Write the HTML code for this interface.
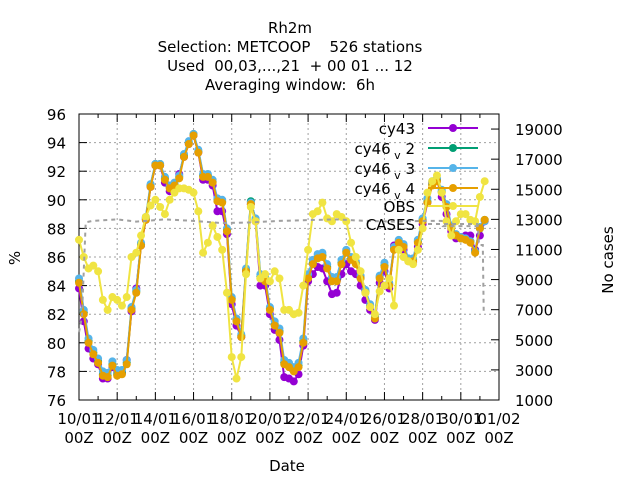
<!DOCTYPE html>
<html><head><meta charset="utf-8"><style>
html,body{margin:0;padding:0;background:#fff;}
svg{display:block;font-family:"DejaVu Sans","Liberation Sans",sans-serif;}
</style></head><body>
<svg id="chart" width="640" height="480" viewBox="0 0 640 480" xmlns="http://www.w3.org/2000/svg">
<g font-size="15" text-anchor="middle" fill="#000">
<text x="290" y="33">Rh2m</text>
<text x="290" y="52" xml:space="preserve">Selection: METCOOP    526 stations</text>
<text x="290" y="71" xml:space="preserve">Used  00,03,...,21  + 00 01 ... 12</text>
<text x="290" y="90" xml:space="preserve">Averaging window:  6h</text>
</g>
<g id="grid"></g>
<g id="axes"></g>
<g id="series"></g>
<g id="legend"></g>
<text x="287" y="471" font-size="15" text-anchor="middle">Date</text>
<text x="20" y="258" font-size="15" text-anchor="middle" transform="rotate(-90 20 258)">%</text>
<text x="613" y="260" font-size="15" text-anchor="middle" transform="rotate(-90 613 260)">No cases</text>
</svg>
<script>
const xTickLabels = ["10/01","12/01","14/01","16/01","18/01","20/01","22/01","24/01","26/01","28/01","30/01","01/02"];
const yTicks = [76,78,80,82,84,86,88,90,92,94,96];
const y2Ticks = [1000,3000,5000,7000,9000,11000,13000,15000,17000,19000];
const seriesNames = ["cy43","cy46v2","cy46v3","cy46v4","OBS"];
const cy43 = [83.8,81.5,79.6,78.9,78.5,77.5,77.5,78.3,78.0,77.9,78.8,82.2,
 83.8,86.8,88.6,90.9,92.4,92.4,91.2,90.6,91.0,91.8,93.0,93.9,
 94.5,93.3,91.4,91.4,91.0,89.2,89.2,87.6,82.7,81.2,80.4,85.0,
 89.7,88.5,84.0,84.0,82.0,80.9,80.2,77.6,77.5,77.3,77.8,79.8,
 84.3,84.8,85.3,85.2,84.3,83.4,83.5,84.8,85.5,85.0,84.8,84.0,
 83.0,82.3,81.6,84.2,85.0,83.8,86.8,87.0,86.5,85.8,85.6,86.7,
 88.3,89.8,91.2,91.4,90.2,89.0,87.8,87.3,87.4,87.5,87.5,86.5,
 87.5,88.5];
const cy46v2 = [84.3,82.1,80.1,79.3,78.7,77.8,77.7,78.5,77.8,77.9,78.6,82.4,
 83.6,86.9,88.7,91.0,92.5,92.5,91.5,90.9,91.1,91.6,93.1,94.0,
 94.6,93.4,91.7,91.7,91.3,90.0,89.9,87.9,83.1,81.6,80.5,85.1,
 89.9,88.6,84.6,84.4,82.4,81.3,80.8,78.6,78.4,78.1,78.4,80.1,
 84.6,85.6,86.0,86.1,85.3,84.4,84.4,85.6,86.4,85.9,85.6,84.6,
 83.6,82.6,81.8,84.6,85.4,84.1,86.6,87.1,86.8,85.8,85.8,87.1,
 88.6,89.9,91.1,91.4,90.6,89.6,88.1,87.5,87.3,87.3,87.1,86.4,
 88.0,88.6];
const cy46v3 = [84.5,82.3,80.3,79.5,78.9,78.0,77.9,78.7,78.1,78.1,78.8,82.5,
 83.7,87.0,88.8,91.1,92.5,92.5,91.6,91.0,91.2,91.7,93.2,94.1,
 94.6,93.5,91.8,91.8,91.4,90.1,90.0,88.0,83.2,81.7,80.6,85.2,
 89.8,88.7,84.8,84.6,82.5,81.5,81.0,78.8,78.6,78.3,78.6,80.3,
 84.8,85.8,86.2,86.3,85.5,84.6,84.6,85.8,86.5,86.0,85.7,84.7,
 83.7,82.7,81.9,84.7,85.6,84.2,86.7,87.2,86.9,85.9,85.9,87.2,
 88.7,90.1,91.3,91.5,90.7,89.7,88.2,87.6,87.4,87.3,87.1,86.4,
 88.1,88.5];
const cy46v4 = [84.2,82.0,80.0,79.2,78.6,77.7,77.6,78.4,77.7,77.8,78.5,82.3,
 83.5,86.8,88.6,90.9,92.4,92.4,91.4,90.8,91.0,91.5,93.0,93.9,
 94.5,93.3,91.6,91.6,91.2,89.9,89.8,87.8,83.0,81.5,80.4,85.0,
 89.7,88.5,84.5,84.3,82.3,81.2,80.7,78.5,78.3,78.0,78.3,80.0,
 84.5,85.5,85.9,86.0,85.2,84.3,84.3,85.5,86.3,85.8,85.5,84.5,
 83.5,82.5,81.7,84.5,85.3,84.0,86.5,87.0,86.7,85.7,85.7,87.0,
 88.5,89.8,91.0,91.3,90.5,89.5,88.0,87.5,87.3,87.2,87.0,86.3,
 88.0,88.6];
const obs = [87.2,86.0,85.2,85.4,85.0,83.0,82.3,83.2,83.0,82.6,83.2,86.0,
 86.3,87.5,88.8,89.6,90.0,89.5,89.0,90.0,90.5,90.8,90.8,90.7,
 90.5,89.2,86.3,87.0,88.2,87.4,86.5,83.5,79.0,77.5,79.0,84.8,
 89.5,88.5,84.5,84.8,84.3,85.0,84.5,82.3,82.3,82.0,82.1,84.0,
 86.5,89.0,89.2,89.8,88.7,88.5,89.0,88.8,88.5,87.0,86.0,85.0,
 83.5,82.5,82.0,83.6,84.0,84.5,82.6,86.5,86.0,85.7,85.5,86.5,
 88.0,90.5,91.3,91.7,90.5,88.5,87.5,88.5,89.0,89.0,88.6,88.5,
 90.2,91.3];
const casesDays = [0,0.15,0.35,0.7,2,3,4.5,6,7.5,9,10.5,12,13.5,15,16.5,18,19,19.05,20.9,20.95,21.15,21.2];
const casesVals = [5500,6500,12800,12900,13000,12850,13000,12900,12750,12800,12900,12950,13000,12900,12850,12900,12900,12550,12550,11300,11300,6900];

const X0=79, X1=499, Y0=400, Y1=114, NDAYS=22;
const xs = d => X0 + d*(X1-X0)/NDAYS;
const ys = v => Y0 - (v-76)*(Y0-Y1)/20;
const y2s = c => Y0 - (c-1000)*(Y0-Y1)/19000;
const NS="http://www.w3.org/2000/svg";
function mk(tag, parent, attrs){const e=document.createElementNS(NS,tag);for(const k in attrs)e.setAttribute(k,attrs[k]);parent.appendChild(e);return e;}
const grid=document.getElementById('grid'), axes=document.getElementById('axes'), series=document.getElementById('series'), legend=document.getElementById('legend');

yTicks.forEach((v,i)=>{
  const y=ys(v);
  if(i>0&&i<yTicks.length-1){const g=mk('line',grid,{x1:X0,x2:X1,y1:y,y2:y,stroke:'#a0a0a0','stroke-width':1,'stroke-dasharray':'2,3'});
  
  }
  mk('line',axes,{x1:X0,x2:X0+8,y1:y,y2:y,stroke:'#000'});
  const t=mk('text',axes,{x:X0-13,y:y+6,'font-size':15,'text-anchor':'end'});t.textContent=v;
  
  
});
y2Ticks.forEach(c=>{
  const y=y2s(c);
  mk('line',axes,{x1:X1-8,x2:X1,y1:y,y2:y,stroke:'#000'});
  const t=mk('text',axes,{x:X1+16,y:y+6,'font-size':15});t.textContent=c;
  
  
});
for(let d=1; d<NDAYS; d+=2){ mk('line',axes,{x1:xs(d),x2:xs(d),y1:Y0,y2:Y0-4,stroke:'#000'}); mk('line',axes,{x1:xs(d),x2:xs(d),y1:Y1,y2:Y1+4,stroke:'#000'}); }
xTickLabels.forEach((lab,i)=>{
  const x=xs(i*2);
  if(i>0&&i<xTickLabels.length-1){const g=mk('line',grid,{x1:x,x2:x,y1:Y0,y2:Y1,stroke:'#a0a0a0','stroke-width':1,'stroke-dasharray':'2,3'});
  
  }
  mk('line',axes,{x1:x,x2:x,y1:Y0,y2:Y0-8,stroke:'#000'});
  mk('line',axes,{x1:x,x2:x,y1:Y1,y2:Y1+8,stroke:'#000'});
  const t=mk('text',axes,{x:x,y:424,'font-size':15,'text-anchor':'middle'});t.textContent=lab;
  
  
  const t2=mk('text',axes,{x:x,y:443,'font-size':15,'text-anchor':'middle'});t2.textContent='00Z';
  
  
});
mk('rect',axes,{x:X0,y:Y1,width:X1-X0,height:Y0-Y1,fill:'none',stroke:'#000','stroke-width':1});

const colors=['#9400d3','#009e73','#56b4e9','#e69f00','#f0e442'];
const data=[cy43,cy46v2,cy46v3,cy46v4,obs];
data.forEach((arr,si)=>{
  const g=mk('g',series,{});
  
  
  const pts=arr.map((v,i)=>xs(i*0.25).toFixed(1)+','+ys(v).toFixed(1)).join(' ');
  mk('polyline',g,{points:pts,fill:'none',stroke:colors[si],'stroke-width':2});
  arr.forEach((v,i)=>{
    const c=mk('circle',g,{cx:xs(i*0.25),cy:ys(v),r:4,fill:colors[si]});
    
    
  });
});
const cp=casesDays.map((d,i)=>xs(d).toFixed(1)+','+y2s(casesVals[i]).toFixed(1)).join(' ');
const cl=mk('polyline',series,{points:cp,fill:'none',stroke:'#a0a0a0','stroke-width':2,'stroke-dasharray':'4,4'});



const legRows=[["cy43",null],["cy46","2"],["cy46","3"],["cy46","4"],["OBS",null],["CASES",null]];
const legY=[128,148,168,188,206,224];
const legCols=['#9400d3','#009e73','#56b4e9','#e69f00','#f0e442','#a0a0a0'];
legRows.forEach((r,i)=>{
  const g=mk('g',legend,{});
  
  
  const y=legY[i];
  const t=mk('text',g,{x:415,y:y+6,'font-size':15,'text-anchor':'end'});
  if(r[1]){
    const a=document.createElementNS(NS,'tspan');a.textContent=r[0];t.appendChild(a);
    const b=document.createElementNS(NS,'tspan');b.setAttribute('dy','5');b.setAttribute('font-size','11');b.textContent=' v';t.appendChild(b);
    const c=document.createElementNS(NS,'tspan');c.setAttribute('dy','-5');c.textContent=' '+r[1];t.appendChild(c);
  } else t.textContent=r[0];
  if(i<5){
    mk('line',g,{x1:428,x2:478,y1:y,y2:y,stroke:legCols[i],'stroke-width':2});
    mk('circle',g,{cx:453,cy:y,r:4,fill:legCols[i]});
  } else {
    mk('line',g,{x1:428,x2:478,y1:y,y2:y,stroke:legCols[i],'stroke-width':2,'stroke-dasharray':'4,4'});
  }
});
</script>
</body></html>
